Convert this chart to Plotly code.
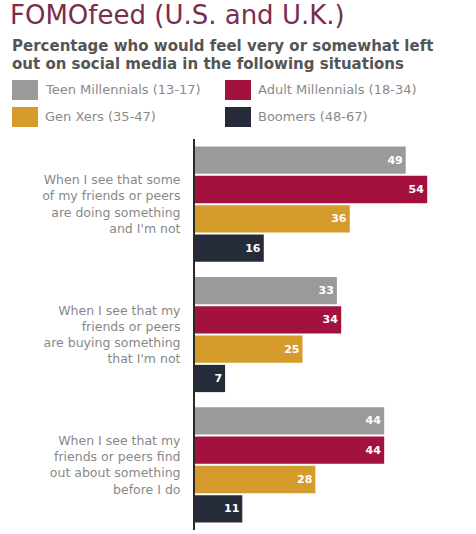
import plotly.graph_objects as go

categories = [
    "When I see that some<br>of my friends or peers<br>are doing something<br>and I'm not",
    "When I see that my<br>friends or peers<br>are buying something<br>that I'm not",
    "When I see that my<br>friends or peers find<br>out about something<br>before I do",
]
series_names = ["Teen Millennials (13-17)", "Adult Millennials (18-34)",
                "Gen Xers (35-47)", "Boomers (48-67)"]
teen = [49, 33, 44]
adult = [54, 34, 44]
genx = [36, 25, 28]
boomers = [16, 7, 11]
colors = ["#9a9a9a", "#a3123f", "#d59b2b", "#262b3a"]
subtitle_lines = ["Percentage who would feel very or somewhat left",
                  "out on social media in the following situations"]

W, H = 476, 534
ML, MR, MT, MB = 195, 23, 139, 4
PW, PH = W - ML - MR, H - MT - MB

def px(x):
    return (x - ML) / PW

def py(y):
    return (H - MB - y) / PH

fig = go.Figure()
for name, vals, col in zip(series_names, [teen, adult, genx, boomers], colors):
    fig.add_trace(go.Bar(
        y=categories, x=vals, name=name, orientation="h",
        marker=dict(color=col, line=dict(width=0)),
        text=[str(v) for v in vals], textposition="inside",
        insidetextanchor="end", textangle=0,
        insidetextfont=dict(color="white", size=11, family="DejaVu Sans"),
        texttemplate="<b>%{text}</b>",
        showlegend=False,
    ))

shapes = []
annotations = []
# legend
leg = [(12, 80, 0), (225, 80, 1), (12, 107, 2), (225, 107, 3)]
for x0, y0, i in leg:
    shapes.append(dict(type="rect", xref="paper", yref="paper",
                       x0=px(x0), x1=px(x0 + 26), y0=py(y0), y1=py(y0 + 20),
                       fillcolor=colors[i], line=dict(width=0)))
    annotations.append(dict(xref="paper", yref="paper", x=px(x0 + 31), y=py(y0 + 10),
                            text=series_names[i], showarrow=False, xanchor="left",
                            yanchor="middle",
                            font=dict(family="DejaVu Sans", size=13, color="#8a8a8a")))

for k, line in enumerate(subtitle_lines):
    annotations.append(dict(xref="paper", yref="paper", x=px(10), y=py(46 + 18 * k),
                            xanchor="left", yanchor="middle", showarrow=False,
                            text="<b>" + line + "</b>",
                            font=dict(family="DejaVu Sans", size=15, color="#555555")))

fig.update_layout(
    width=W, height=H,
    margin=dict(l=ML, r=MR, t=MT, b=MB),
    paper_bgcolor="white", plot_bgcolor="white",
    barmode="group", bargap=0.1, bargroupgap=0.07,
    title=dict(text="FOMOfeed (U.S. and U.K.)", x=10 / W, xanchor="left",
               xref="container", yref="container", y=1 - 6 / H, yanchor="top",
               font=dict(family="DejaVu Sans", size=26, color="#7b2d4e")),
    xaxis=dict(range=[0, 60], showgrid=False, zeroline=False, showticklabels=False,
               showline=False, fixedrange=True),
    yaxis=dict(autorange="reversed", showgrid=False, zeroline=False, showline=True,
               linecolor="#2a2a2a", linewidth=2, ticks="", ticklabelstandoff=10,
               tickfont=dict(family="DejaVu Sans", size=12.5, color="#888888")),
    shapes=shapes, annotations=annotations,
    uniformtext=dict(mode=False),
)

fig.write_html("out.html")
